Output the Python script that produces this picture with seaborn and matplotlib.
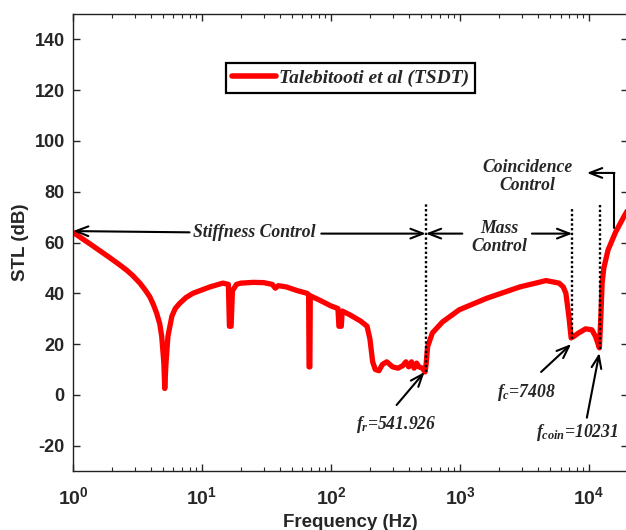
import numpy as np
import pandas as pd
import matplotlib
matplotlib.use("Agg")
import matplotlib.pyplot as plt
import seaborn as sns
from matplotlib.ticker import LogLocator, FixedLocator, FuncFormatter, NullFormatter

# ---- data ----
freq = [1, 1.35, 1.93, 2.3, 2.62, 2.9, 3.3, 3.6, 3.94, 4.2, 4.46, 4.7, 4.87, 5.06, 5.14, 5.25, 5.44,
        5.84, 6.2, 6.7, 7.5, 8.5, 11.5, 14.5,
        16.0, 16.3, 16.8, 17.2, 18.5, 20, 25, 30, 35, 37, 39, 45, 55, 65, 67,
        67.5, 68.5, 69, 80, 100, 113, 115, 120, 122, 140, 170, 190, 200, 210, 220, 235,
        250, 270, 300, 330, 360, 380, 400, 420, 440, 460, 480, 510, 535, 545, 560, 610,
        730, 985, 1600, 2900, 4640, 5850, 6300, 6600, 6960, 7250, 7600,
        8300, 9400, 10500, 11200, 12000, 12300, 12600, 13000, 14000,
        16000, 18500, 20000]
stl = [64, 59.5, 54, 51.2, 49, 47, 44, 41.5, 38.6, 35.5, 32, 28, 23, 12.5, 2.5, 12, 23,
       31, 34, 36, 38.3, 40, 42.5, 44,
       43.5, 27, 27, 41, 43.5, 44, 44.3, 44.2, 43.5, 42, 43, 42.5, 41, 40, 39.5,
       11, 11, 39, 37.5, 35, 34, 27, 27, 33, 31.5, 29, 27, 22, 13, 10, 9.5,
       12, 13, 11, 10.5, 11.5, 13, 11, 13, 10.5, 12.5, 11, 10.5, 9, 12, 19, 24.4,
       28.7, 33.5, 38, 42.5, 45, 44, 42.5, 40, 31, 22.4, 23,
       24.4, 26, 25.6, 23, 18.5, 30, 44, 50, 57,
       64, 70, 73]
series_name = "Talebitooti et al (TSDT)"
f_r, f_c, f_coin_pos = 541.926, 7408, 12100
fr_label = r"$\mathit{f_r}$=541.926"
fc_label = r"$\mathit{f_c}$=7408"
fcoin_label = r"$\mathit{f_{coin}}$=10231"

df = pd.DataFrame({"Frequency": freq, "STL": stl, "Model": series_name})

# ---- style ----
sns.set_style("ticks")
plt.rcParams["font.family"] = ["Liberation Sans", "DejaVu Sans"]
plt.rcParams["axes.unicode_minus"] = False
plt.rcParams["mathtext.fontset"] = "custom"
plt.rcParams["mathtext.bf"] = "Liberation Sans:bold"
plt.rcParams["mathtext.rm"] = "Liberation Sans:bold"
plt.rcParams["mathtext.it"] = "Liberation Serif:bold:italic"

fig = plt.figure(figsize=(6.26, 5.30), dpi=100)
ax = fig.add_axes([73/626, 1-471/530, (628-73)/626, (471-14)/530])

sns.lineplot(data=df, x="Frequency", y="STL", hue="Model", palette=["#ff0000"],
             linewidth=3.8, ax=ax, legend=True, sort=False)
ax.set_xscale("log")
ax.set_xlim(1, 2e4)
ax.set_ylim(-30, 150)
ax.set_yticks(np.arange(-20, 141, 20))

ax.xaxis.set_major_locator(FixedLocator([1, 10, 100, 1000, 10000]))
ax.xaxis.set_minor_locator(LogLocator(base=10, subs=np.arange(2, 10)))
ax.xaxis.set_minor_formatter(NullFormatter())
ax.xaxis.set_major_formatter(FuncFormatter(lambda v, p: r"$\mathbf{10^{%d}}$" % int(round(np.log10(v)))))

for sp in ax.spines.values():
    sp.set_linewidth(1.0)
    sp.set_color("#222222")
ax.tick_params(axis="both", which="major", direction="in", length=5, width=1,
               top=True, right=True)
ax.tick_params(axis="y", which="major", labelsize=13, pad=6)
ax.tick_params(axis="x", which="major", labelsize=14, pad=11)
ax.tick_params(axis="x", which="minor", direction="in", length=3, width=0.8, top=True)
for lab in ax.get_yticklabels():
    lab.set_fontweight("bold")

ax.set_xlabel("Frequency (Hz)", fontsize=13.5, fontweight="bold", labelpad=4)
ax.set_ylabel("STL (dB)", fontsize=13.5, fontweight="bold", labelpad=4)

leg = ax.legend(loc="center", bbox_to_anchor=(0.5, 0.86), fancybox=False, frameon=True,
                handlelength=2.3, handletextpad=0.15, borderpad=0.3,
                prop={"family": "Liberation Serif", "style": "italic", "weight": "bold", "size": 14})
leg.get_frame().set_edgecolor("black")
leg.get_frame().set_linewidth(1.6)
leg.get_frame().set_alpha(1)
for h in leg.get_lines():
    h.set_linewidth(4)

serif = dict(family="Liberation Serif", style="italic", weight="bold", fontsize=12.7)
arrow = dict(arrowstyle="->,head_length=0.9,head_width=0.35", color="black", lw=1.5,
             shrinkA=0, shrinkB=0)

# dotted markers
ax.plot([f_r, f_r], [9, 75.6], ls=(0, (1, 1)), color="black", lw=1.7)
ax.plot([f_c, f_c], [22, 73], ls=(0, (1, 1)), color="black", lw=1.7)
ax.plot([f_coin_pos, f_coin_pos], [18, 75.6], ls=(0, (1, 1)), color="black", lw=1.7)

# Stiffness control
ax.text(25.6, 64, "Stiffness Control", ha="center", va="center", **serif)
ax.annotate("", xy=(1.0, 64.5), xytext=(8.0, 64), arrowprops=arrow)
ax.annotate("", xy=(f_r, 63.5), xytext=(84, 63.5), arrowprops=arrow)

# Mass control
ax.text(2000, 62, "Mass\nControl", ha="center", va="center", linespacing=1.05, **serif)
ax.annotate("", xy=(f_r, 63.5), xytext=(1040, 63.5), arrowprops=arrow)
ax.annotate("", xy=(f_c, 63.5), xytext=(3600, 63.5), arrowprops=arrow)

# Coincidence control
ax.text(3300, 86, "Coincidence\nControl", ha="center", va="center", linespacing=1.05, **serif)
ax.plot([15700, 15700], [65.7, 87.4], color="black", lw=1.5)
ax.annotate("", xy=(9600, 87.4), xytext=(15700, 87.4), arrowprops=arrow)

# frequency labels
ax.annotate("", xy=(530, 9), xytext=(322, -4), arrowprops=arrow)
ax.text(322, -11.5, fr_label, ha="center", va="center", **serif)
ax.annotate("", xy=(7250, 20), xytext=(4240, 9), arrowprops=arrow)
ax.text(3250, 1, fc_label, ha="center", va="center", **serif)
ax.annotate("", xy=(12000, 16.5), xytext=(9600, -9), arrowprops=arrow)
ax.text(8100, -15, fcoin_label, ha="center", va="center", **serif)

fig.savefig("out.png", dpi=100)
